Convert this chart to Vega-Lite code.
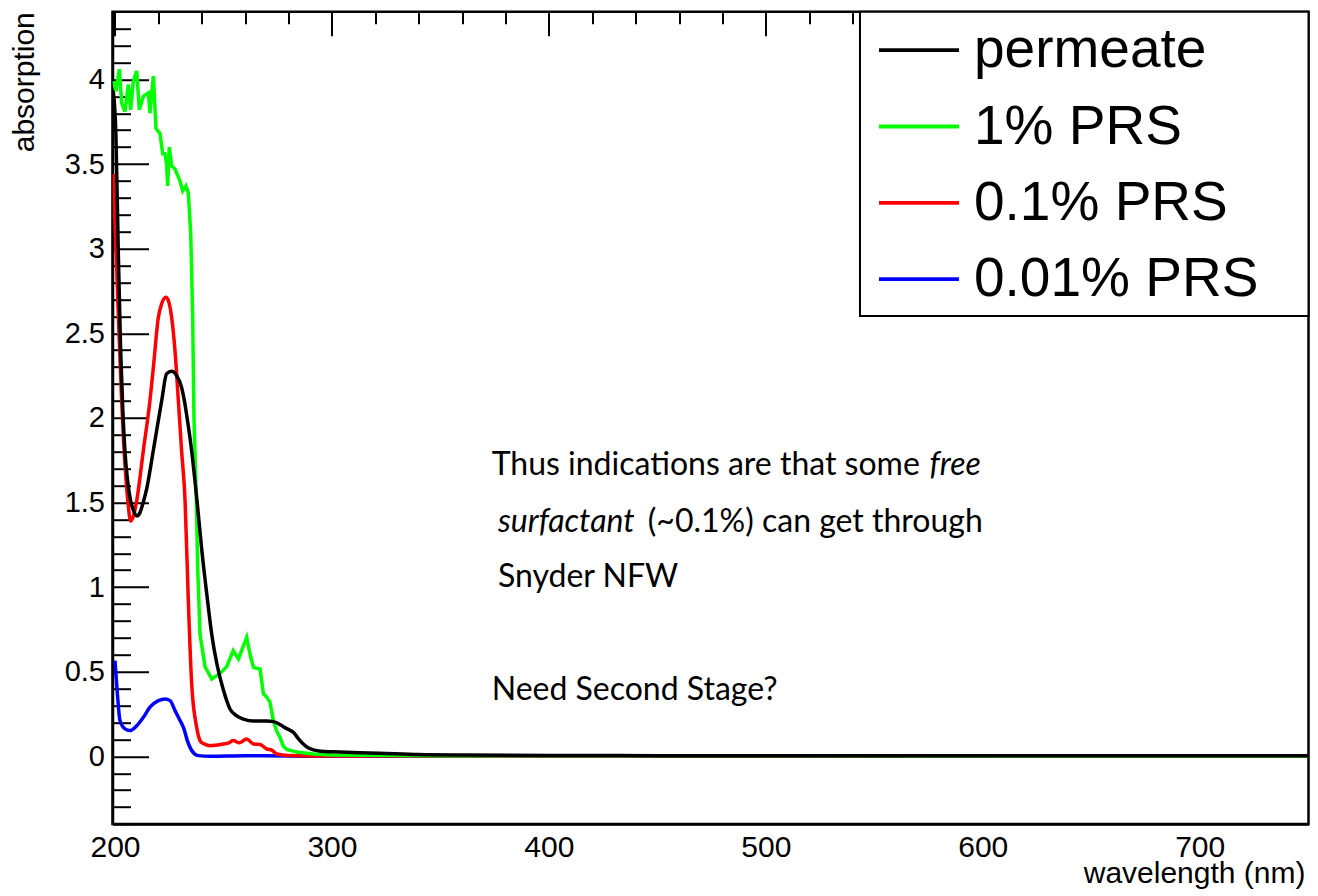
{
  "$schema": "https://vega.github.io/schema/vega-lite/v6.json",
  "width": 1196,
  "height": 812.3,
  "autosize": {"type": "none"},
  "padding": {"left": 112.5, "top": 11.7, "right": 9.5, "bottom": 72},
  "background": "white",
  "config": {
    "view": {"stroke": "black", "strokeWidth": 2.5},
    "font": "Liberation Sans"
  },
  "resolve": {"axis": {"x": "independent", "y": "independent"}},
  "layer": [
    {
      "data": {
        "values": [
          {"s": "0.01% PRS", "wl": 200.0, "a": 0.566},
          {"s": "0.01% PRS", "wl": 201.1, "a": 0.369},
          {"s": "0.01% PRS", "wl": 202.3, "a": 0.211},
          {"s": "0.01% PRS", "wl": 204.6, "a": 0.162},
          {"s": "0.01% PRS", "wl": 206.9, "a": 0.152},
          {"s": "0.01% PRS", "wl": 210.0, "a": 0.181},
          {"s": "0.01% PRS", "wl": 213.1, "a": 0.231},
          {"s": "0.01% PRS", "wl": 216.1, "a": 0.29},
          {"s": "0.01% PRS", "wl": 220.0, "a": 0.329},
          {"s": "0.01% PRS", "wl": 223.05, "a": 0.339},
          {"s": "0.01% PRS", "wl": 225.4, "a": 0.329},
          {"s": "0.01% PRS", "wl": 227.7, "a": 0.27},
          {"s": "0.01% PRS", "wl": 230.0, "a": 0.211},
          {"s": "0.01% PRS", "wl": 231.8, "a": 0.162},
          {"s": "0.01% PRS", "wl": 233.3, "a": 0.094},
          {"s": "0.01% PRS", "wl": 235.35, "a": 0.034},
          {"s": "0.01% PRS", "wl": 238.4, "a": 0.004},
          {"s": "0.01% PRS", "wl": 243.8, "a": 0.0},
          {"s": "0.01% PRS", "wl": 260.0, "a": 0.003},
          {"s": "0.01% PRS", "wl": 280.0, "a": 0.002},
          {"s": "0.01% PRS", "wl": 300.0, "a": 0.0},
          {"s": "0.01% PRS", "wl": 750.0, "a": 0.0},

          {"s": "0.1% PRS", "wl": 199.2, "a": 3.44},
          {"s": "0.1% PRS", "wl": 200.0, "a": 3.15},
          {"s": "0.1% PRS", "wl": 201.0, "a": 2.8},
          {"s": "0.1% PRS", "wl": 202.0, "a": 2.45},
          {"s": "0.1% PRS", "wl": 203.07, "a": 2.1},
          {"s": "0.1% PRS", "wl": 204.0, "a": 1.85},
          {"s": "0.1% PRS", "wl": 205.0, "a": 1.65},
          {"s": "0.1% PRS", "wl": 206.0, "a": 1.5},
          {"s": "0.1% PRS", "wl": 207.2, "a": 1.39},
          {"s": "0.1% PRS", "wl": 208.5, "a": 1.42},
          {"s": "0.1% PRS", "wl": 210.0, "a": 1.51},
          {"s": "0.1% PRS", "wl": 213.1, "a": 1.81},
          {"s": "0.1% PRS", "wl": 216.1, "a": 2.1},
          {"s": "0.1% PRS", "wl": 217.7, "a": 2.3},
          {"s": "0.1% PRS", "wl": 220.0, "a": 2.595},
          {"s": "0.1% PRS", "wl": 221.5, "a": 2.674},
          {"s": "0.1% PRS", "wl": 223.5, "a": 2.713},
          {"s": "0.1% PRS", "wl": 224.6, "a": 2.693},
          {"s": "0.1% PRS", "wl": 226.1, "a": 2.595},
          {"s": "0.1% PRS", "wl": 227.65, "a": 2.398},
          {"s": "0.1% PRS", "wl": 229.2, "a": 2.102},
          {"s": "0.1% PRS", "wl": 230.7, "a": 1.807},
          {"s": "0.1% PRS", "wl": 232.3, "a": 1.511},
          {"s": "0.1% PRS", "wl": 233.8, "a": 0.92},
          {"s": "0.1% PRS", "wl": 235.35, "a": 0.428},
          {"s": "0.1% PRS", "wl": 237.65, "a": 0.171},
          {"s": "0.1% PRS", "wl": 239.2, "a": 0.093},
          {"s": "0.1% PRS", "wl": 240.7, "a": 0.075},
          {"s": "0.1% PRS", "wl": 243.8, "a": 0.063},
          {"s": "0.1% PRS", "wl": 246.5, "a": 0.066},
          {"s": "0.1% PRS", "wl": 249.9, "a": 0.073},
          {"s": "0.1% PRS", "wl": 252.5, "a": 0.08},
          {"s": "0.1% PRS", "wl": 254.55, "a": 0.093},
          {"s": "0.1% PRS", "wl": 257.3, "a": 0.08},
          {"s": "0.1% PRS", "wl": 260.7, "a": 0.103},
          {"s": "0.1% PRS", "wl": 263.8, "a": 0.073},
          {"s": "0.1% PRS", "wl": 266.85, "a": 0.07},
          {"s": "0.1% PRS", "wl": 269.9, "a": 0.044},
          {"s": "0.1% PRS", "wl": 272.25, "a": 0.037},
          {"s": "0.1% PRS", "wl": 274.55, "a": 0.014},
          {"s": "0.1% PRS", "wl": 280.0, "a": 0.005},
          {"s": "0.1% PRS", "wl": 300.0, "a": 0.002},
          {"s": "0.1% PRS", "wl": 750.0, "a": 0.001},

          {"s": "1% PRS", "wl": 199.23, "a": 3.99},
          {"s": "1% PRS", "wl": 200.46, "a": 3.93},
          {"s": "1% PRS", "wl": 202.0, "a": 4.06},
          {"s": "1% PRS", "wl": 203.08, "a": 3.86},
          {"s": "1% PRS", "wl": 204.6, "a": 3.81},
          {"s": "1% PRS", "wl": 206.15, "a": 3.97},
          {"s": "1% PRS", "wl": 207.2, "a": 3.82},
          {"s": "1% PRS", "wl": 208.45, "a": 3.99},
          {"s": "1% PRS", "wl": 210.0, "a": 4.05},
          {"s": "1% PRS", "wl": 211.2, "a": 3.82},
          {"s": "1% PRS", "wl": 213.06, "a": 3.9},
          {"s": "1% PRS", "wl": 215.4, "a": 3.92},
          {"s": "1% PRS", "wl": 216.1, "a": 3.8},
          {"s": "1% PRS", "wl": 217.7, "a": 4.02},
          {"s": "1% PRS", "wl": 218.9, "a": 3.71},
          {"s": "1% PRS", "wl": 220.75, "a": 3.68},
          {"s": "1% PRS", "wl": 222.0, "a": 3.56},
          {"s": "1% PRS", "wl": 223.05, "a": 3.56},
          {"s": "1% PRS", "wl": 223.8, "a": 3.5},
          {"s": "1% PRS", "wl": 224.3, "a": 3.37},
          {"s": "1% PRS", "wl": 225.0, "a": 3.6},
          {"s": "1% PRS", "wl": 226.1, "a": 3.49},
          {"s": "1% PRS", "wl": 227.65, "a": 3.47},
          {"s": "1% PRS", "wl": 229.95, "a": 3.4},
          {"s": "1% PRS", "wl": 231.2, "a": 3.34},
          {"s": "1% PRS", "wl": 232.7, "a": 3.37},
          {"s": "1% PRS", "wl": 233.8, "a": 3.33},
          {"s": "1% PRS", "wl": 234.9, "a": 3.09},
          {"s": "1% PRS", "wl": 235.8, "a": 2.6},
          {"s": "1% PRS", "wl": 236.4, "a": 2.0},
          {"s": "1% PRS", "wl": 237.5, "a": 1.51},
          {"s": "1% PRS", "wl": 238.1, "a": 1.12},
          {"s": "1% PRS", "wl": 239.2, "a": 0.72},
          {"s": "1% PRS", "wl": 241.5, "a": 0.53},
          {"s": "1% PRS", "wl": 244.6, "a": 0.457},
          {"s": "1% PRS", "wl": 248.4, "a": 0.49},
          {"s": "1% PRS", "wl": 251.5, "a": 0.53},
          {"s": "1% PRS", "wl": 254.5, "a": 0.625},
          {"s": "1% PRS", "wl": 256.9, "a": 0.576},
          {"s": "1% PRS", "wl": 260.7, "a": 0.703},
          {"s": "1% PRS", "wl": 262.3, "a": 0.6},
          {"s": "1% PRS", "wl": 263.8, "a": 0.526},
          {"s": "1% PRS", "wl": 265.3, "a": 0.52},
          {"s": "1% PRS", "wl": 266.85, "a": 0.516},
          {"s": "1% PRS", "wl": 268.4, "a": 0.37},
          {"s": "1% PRS", "wl": 269.9, "a": 0.35},
          {"s": "1% PRS", "wl": 271.45, "a": 0.32},
          {"s": "1% PRS", "wl": 273.0, "a": 0.21},
          {"s": "1% PRS", "wl": 274.5, "a": 0.15},
          {"s": "1% PRS", "wl": 276.1, "a": 0.11},
          {"s": "1% PRS", "wl": 277.6, "a": 0.06},
          {"s": "1% PRS", "wl": 279.2, "a": 0.04},
          {"s": "1% PRS", "wl": 283.8, "a": 0.025},
          {"s": "1% PRS", "wl": 291.4, "a": 0.014},
          {"s": "1% PRS", "wl": 300.0, "a": 0.008},
          {"s": "1% PRS", "wl": 350.0, "a": 0.003},
          {"s": "1% PRS", "wl": 750.0, "a": 0.002},

          {"s": "permeate", "wl": 199.2, "a": 3.93},
          {"s": "permeate", "wl": 200.4, "a": 3.68},
          {"s": "permeate", "wl": 201.5, "a": 2.99},
          {"s": "permeate", "wl": 202.6, "a": 2.4},
          {"s": "permeate", "wl": 203.6, "a": 2.05},
          {"s": "permeate", "wl": 204.6, "a": 1.8},
          {"s": "permeate", "wl": 205.8, "a": 1.63},
          {"s": "permeate", "wl": 207.2, "a": 1.51},
          {"s": "permeate", "wl": 208.6, "a": 1.45},
          {"s": "permeate", "wl": 210.1, "a": 1.42},
          {"s": "permeate", "wl": 211.5, "a": 1.44},
          {"s": "permeate", "wl": 213.0, "a": 1.5},
          {"s": "permeate", "wl": 214.6, "a": 1.58},
          {"s": "permeate", "wl": 217.7, "a": 1.81},
          {"s": "permeate", "wl": 221.5, "a": 2.1},
          {"s": "permeate", "wl": 223.8, "a": 2.26},
          {"s": "permeate", "wl": 226.1, "a": 2.275},
          {"s": "permeate", "wl": 228.4, "a": 2.25},
          {"s": "permeate", "wl": 230.7, "a": 2.18},
          {"s": "permeate", "wl": 232.0, "a": 2.1},
          {"s": "permeate", "wl": 233.0, "a": 2.02},
          {"s": "permeate", "wl": 235.3, "a": 1.81},
          {"s": "permeate", "wl": 237.8, "a": 1.51},
          {"s": "permeate", "wl": 240.0, "a": 1.22},
          {"s": "permeate", "wl": 242.3, "a": 0.96},
          {"s": "permeate", "wl": 244.6, "a": 0.72},
          {"s": "permeate", "wl": 246.9, "a": 0.55},
          {"s": "permeate", "wl": 250.0, "a": 0.39},
          {"s": "permeate", "wl": 253.0, "a": 0.28},
          {"s": "permeate", "wl": 256.0, "a": 0.24},
          {"s": "permeate", "wl": 259.2, "a": 0.22},
          {"s": "permeate", "wl": 263.8, "a": 0.208},
          {"s": "permeate", "wl": 269.9, "a": 0.208},
          {"s": "permeate", "wl": 273.0, "a": 0.205},
          {"s": "permeate", "wl": 276.1, "a": 0.187},
          {"s": "permeate", "wl": 279.0, "a": 0.165},
          {"s": "permeate", "wl": 282.2, "a": 0.142},
          {"s": "permeate", "wl": 284.5, "a": 0.105},
          {"s": "permeate", "wl": 286.8, "a": 0.073},
          {"s": "permeate", "wl": 289.0, "a": 0.05},
          {"s": "permeate", "wl": 291.4, "a": 0.038},
          {"s": "permeate", "wl": 295.0, "a": 0.03},
          {"s": "permeate", "wl": 300.0, "a": 0.027},
          {"s": "permeate", "wl": 306.8, "a": 0.024},
          {"s": "permeate", "wl": 322.0, "a": 0.018},
          {"s": "permeate", "wl": 340.0, "a": 0.01},
          {"s": "permeate", "wl": 360.0, "a": 0.007},
          {"s": "permeate", "wl": 400.0, "a": 0.005},
          {"s": "permeate", "wl": 450.0, "a": 0.004},
          {"s": "permeate", "wl": 500.0, "a": 0.003},
          {"s": "permeate", "wl": 600.0, "a": 0.003},
          {"s": "permeate", "wl": 750.0, "a": 0.003}
        ]
      },
      "encoding": {
        "x": {
          "field": "wl",
          "type": "quantitative",
          "scale": {"domain": [198.85, 750.15], "nice": false, "zero": false},
          "axis": {
            "orient": "bottom",
            "values": [200, 220, 240, 260, 280, 300, 320, 340, 360, 380, 400, 420, 440, 460, 480, 500, 520, 540, 560, 580, 600, 620, 640, 660, 680, 700, 720, 740],
            "ticks": false,
            "grid": true,
            "gridColor": "black",
            "gridOpacity": 1,
            "gridWidth": 2,
            "gridDash": {"condition": {"test": "datum.value % 100 === 0", "value": [24, 3000]}, "value": [12, 3000]},
            "domainColor": "black",
            "domainWidth": 2.5,
            "labelExpr": "datum.value % 100 === 0 ? format(datum.value, 'd') : ''",
            "labelFont": "Liberation Sans",
            "labelFontSize": 30,
            "labelColor": "black",
            "labelPadding": 8,
            "labelOverlap": false,
            "labelFlush": false,
            "title": "wavelength (nm)",
            "titleFont": "Liberation Sans",
            "titleFontSize": 30,
            "titleFontWeight": "normal",
            "titleColor": "black",
            "titleAnchor": "end",
            "titleAlign": "right",
            "titleBaseline": "alphabetic",
            "titleX": 1192.5,
            "titleY": 58.5
          }
        },
        "y": {
          "field": "a",
          "type": "quantitative",
          "scale": {"domain": [-0.4, 4.4], "nice": false, "zero": false},
          "axis": {
            "orient": "left",
            "values": [-0.4, -0.3, -0.2, -0.1, 0, 0.1, 0.2, 0.3, 0.4, 0.5, 0.6, 0.7, 0.8, 0.9, 1, 1.1, 1.2, 1.3, 1.4, 1.5, 1.6, 1.7, 1.8, 1.9, 2, 2.1, 2.2, 2.3, 2.4, 2.5, 2.6, 2.7, 2.8, 2.9, 3, 3.1, 3.2, 3.3, 3.4, 3.5, 3.6, 3.7, 3.8, 3.9, 4, 4.1, 4.2, 4.3],
            "ticks": false,
            "grid": true,
            "gridColor": "black",
            "gridOpacity": 1,
            "gridWidth": 2,
            "gridDash": {"condition": {"test": "abs(datum.value*2 - round(datum.value*2)) < 0.001", "value": [36, 3000]}, "value": [18, 3000]},
            "domainColor": "black",
            "domainWidth": 2.5,
            "labelExpr": "abs(datum.value*2 - round(datum.value*2)) < 0.001 ? format(datum.value, '~g') : ''",
            "labelFont": "Liberation Sans",
            "labelFontSize": 29,
            "labelColor": "black",
            "labelPadding": 8,
            "labelOverlap": false,
            "labelFlush": false,
            "title": "absorption",
            "titleFont": "Liberation Sans",
            "titleFontSize": 30,
            "titleFontWeight": "normal",
            "titleColor": "black",
            "titleAngle": 270,
            "titleAnchor": "end",
            "titleAlign": "right",
            "titleBaseline": "alphabetic",
            "titleX": -79,
            "titleY": 0
          }
        },
        "color": {
          "field": "s",
          "type": "nominal",
          "scale": {
            "domain": ["permeate", "1% PRS", "0.1% PRS", "0.01% PRS"],
            "range": ["#000000", "#00ff00", "#ff0000", "#0000ff"]
          },
          "legend": {
            "orient": "none",
            "legendX": 764.5,
            "legendY": -3.5,
            "direction": "vertical",
            "title": null,
            "symbolType": "stroke",
            "symbolSize": 6400,
            "symbolStrokeWidth": 3.8,
            "labelFont": "Liberation Sans",
            "labelFontSize": 55,
            "labelColor": "black",
            "labelOffset": 13,
            "labelLimit": 0,
            "rowPadding": 6.3,
            "padding": 0
          }
        }
      },
      "layer": [
        {
          "transform": [{"filter": "datum.s === '0.01% PRS'"}],
          "mark": {"type": "line", "strokeWidth": 3.5, "interpolate": "monotone", "clip": true}
        },
        {
          "transform": [{"filter": "datum.s === '0.1% PRS'"}],
          "mark": {"type": "line", "strokeWidth": 3.5, "interpolate": "monotone", "clip": true}
        },
        {
          "transform": [{"filter": "datum.s === '1% PRS'"}],
          "mark": {"type": "line", "strokeWidth": 3.5, "interpolate": "linear", "clip": true}
        },
        {
          "transform": [{"filter": "datum.s === 'permeate'"}],
          "mark": {"type": "line", "strokeWidth": 3.5, "interpolate": "monotone", "clip": true}
        }
      ]
    },
    {
      "data": {"values": [{"box": "legend"}]},
      "mark": {"type": "rect", "fill": "white", "stroke": "black", "strokeWidth": 2},
      "encoding": {
        "x": {"datum": 543.4, "type": "quantitative", "axis": null},
        "x2": {"datum": 750.15},
        "y": {"datum": 2.602, "type": "quantitative", "axis": null},
        "y2": {"datum": 4.4}
      }
    },
    {
      "data": {"values": [{"note": "line1"}]},
      "mark": {"type": "text", "text": "Thus indications are that some", "align": "left", "baseline": "alphabetic", "font": "Lato", "fontSize": 32, "fill": "black"},
      "encoding": {"x": {"datum": 373.64, "type": "quantitative", "axis": null}, "y": {"datum": 1.661, "type": "quantitative", "axis": null}}
    },
    {
      "data": {"values": [{"note": "free"}]},
      "mark": {"type": "text", "text": "free", "align": "left", "baseline": "alphabetic", "font": "Lato", "fontSize": 32, "fontStyle": "italic", "fill": "black"},
      "encoding": {"x": {"datum": 575.5, "type": "quantitative", "axis": null}, "y": {"datum": 1.661, "type": "quantitative", "axis": null}}
    },
    {
      "data": {"values": [{"note": "surfactant"}]},
      "mark": {"type": "text", "text": "surfactant", "align": "left", "baseline": "alphabetic", "font": "Lato", "fontSize": 32, "fontStyle": "italic", "fill": "black"},
      "encoding": {"x": {"datum": 376.55, "type": "quantitative", "axis": null}, "y": {"datum": 1.326, "type": "quantitative", "axis": null}}
    },
    {
      "data": {"values": [{"note": "rest"}]},
      "mark": {"type": "text", "text": "(~0.1%) can get through", "align": "left", "baseline": "alphabetic", "font": "Lato", "fontSize": 32, "fill": "black"},
      "encoding": {"x": {"datum": 445.6, "type": "quantitative", "axis": null}, "y": {"datum": 1.326, "type": "quantitative", "axis": null}}
    },
    {
      "data": {"values": [{"note": "line3"}]},
      "mark": {"type": "text", "text": "Snyder NFW", "align": "left", "baseline": "alphabetic", "font": "Lato", "fontSize": 32, "fill": "black"},
      "encoding": {"x": {"datum": 376.55, "type": "quantitative", "axis": null}, "y": {"datum": 1.001, "type": "quantitative", "axis": null}}
    },
    {
      "data": {"values": [{"note": "line5"}]},
      "mark": {"type": "text", "text": "Need Second Stage?", "align": "left", "baseline": "alphabetic", "font": "Lato", "fontSize": 32, "fill": "black"},
      "encoding": {"x": {"datum": 373.64, "type": "quantitative", "axis": null}, "y": {"datum": 0.331, "type": "quantitative", "axis": null}}
    }
  ]
}
